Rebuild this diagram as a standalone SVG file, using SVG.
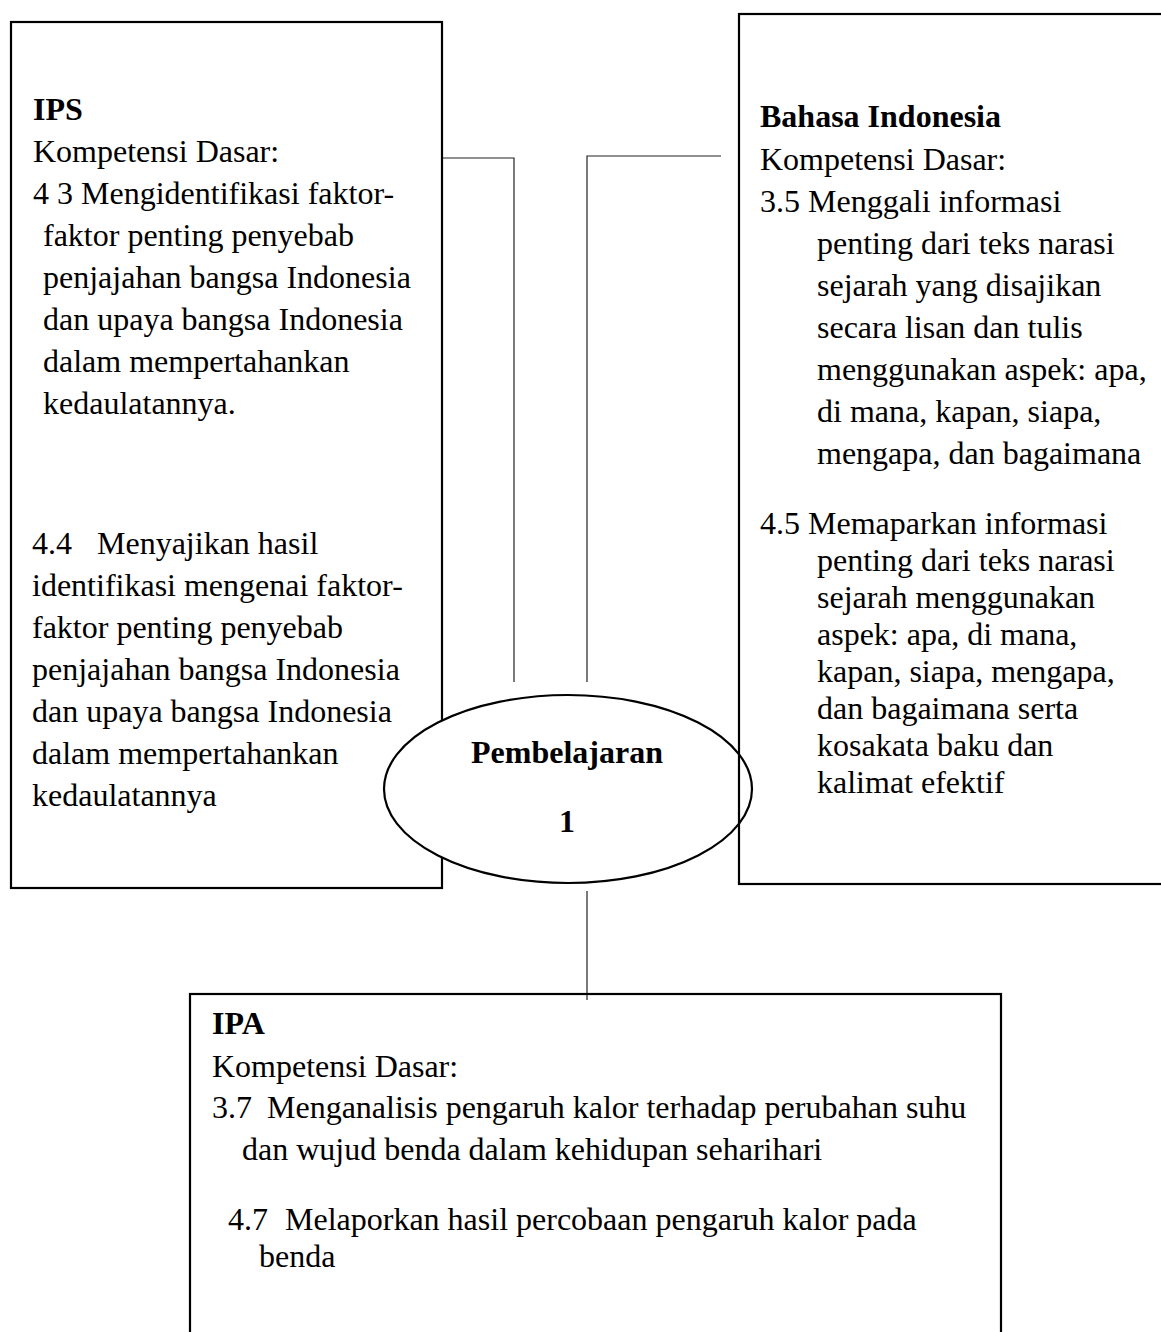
<svg xmlns="http://www.w3.org/2000/svg" width="1161" height="1332" viewBox="0 0 1161 1332">
<style>
.box{fill:none;stroke:#000;stroke-width:2.2}
.ell{fill:#fff;stroke:#000;stroke-width:2.2}
.con{fill:none;stroke:#222;stroke-width:1.2}
text{font-family:"Liberation Serif","Times New Roman",serif;font-size:32px;fill:#000}
.b{font-weight:bold}
.c{text-anchor:middle}
</style>
<rect width="1161" height="1332" fill="#fff"/>
<g id="connectors">
<polyline class="con" points="442,158 514,158 514,682"/>
<polyline class="con" points="721,156 587,156 587,682"/>
<line class="con" x1="587" y1="891" x2="587" y2="1000"/>
</g>
<g id="ips">
<rect class="box" x="11" y="22" width="431" height="866"/>
<text x="33" y="120" class="b">IPS</text>
<text x="33" y="162">Kompetensi Dasar:</text>
<text x="33" y="204">4 3 Mengidentifikasi faktor-</text>
<text x="43" y="246">faktor penting penyebab</text>
<text x="43" y="288">penjajahan bangsa Indonesia</text>
<text x="43" y="330">dan upaya bangsa Indonesia</text>
<text x="43" y="372">dalam mempertahankan</text>
<text x="43" y="414">kedaulatannya.</text>
<text x="32" y="554">4.4<tspan x="97">Menyajikan hasil</tspan></text>
<text x="32" y="596">identifikasi mengenai faktor-</text>
<text x="32" y="638">faktor penting penyebab</text>
<text x="32" y="680">penjajahan bangsa Indonesia</text>
<text x="32" y="722">dan upaya bangsa Indonesia</text>
<text x="32" y="764">dalam mempertahankan</text>
<text x="32" y="806">kedaulatannya</text>
</g>
<g id="pembelajaran">
<ellipse class="ell" cx="568" cy="789" rx="184" ry="94"/>
<text x="567" y="763" class="b c">Pembelajaran</text>
<text x="567" y="832" class="b c">1</text>
</g>
<g id="bahasa">
<rect class="box" x="739" y="14" width="440" height="870"/>
<text x="760" y="127" class="b">Bahasa Indonesia</text>
<text x="760" y="170">Kompetensi Dasar:</text>
<text x="760" y="212">3.5 Menggali informasi</text>
<text x="817" y="254">penting dari teks narasi</text>
<text x="817" y="296">sejarah yang disajikan</text>
<text x="817" y="338">secara lisan dan tulis</text>
<text x="817" y="380">menggunakan aspek: apa,</text>
<text x="817" y="422">di mana, kapan, siapa,</text>
<text x="817" y="464">mengapa, dan bagaimana</text>
<text x="760" y="534">4.5 Memaparkan informasi</text>
<text x="817" y="571">penting dari teks narasi</text>
<text x="817" y="608">sejarah menggunakan</text>
<text x="817" y="645">aspek: apa, di mana,</text>
<text x="817" y="682">kapan, siapa, mengapa,</text>
<text x="817" y="719">dan bagaimana serta</text>
<text x="817" y="756">kosakata baku dan</text>
<text x="817" y="793">kalimat efektif</text>
</g>
<g id="ipa">
<rect class="box" x="190" y="994" width="811" height="360"/>
<text x="212" y="1034" class="b">IPA</text>
<text x="212" y="1077">Kompetensi Dasar:</text>
<text x="212" y="1118">3.7<tspan x="267">Menganalisis pengaruh kalor terhadap perubahan suhu</tspan></text>
<text x="242" y="1160">dan wujud benda dalam kehidupan seharihari</text>
<text x="228" y="1230">4.7<tspan x="285">Melaporkan hasil percobaan pengaruh kalor pada</tspan></text>
<text x="259" y="1267">benda</text>
</g>
</svg>
